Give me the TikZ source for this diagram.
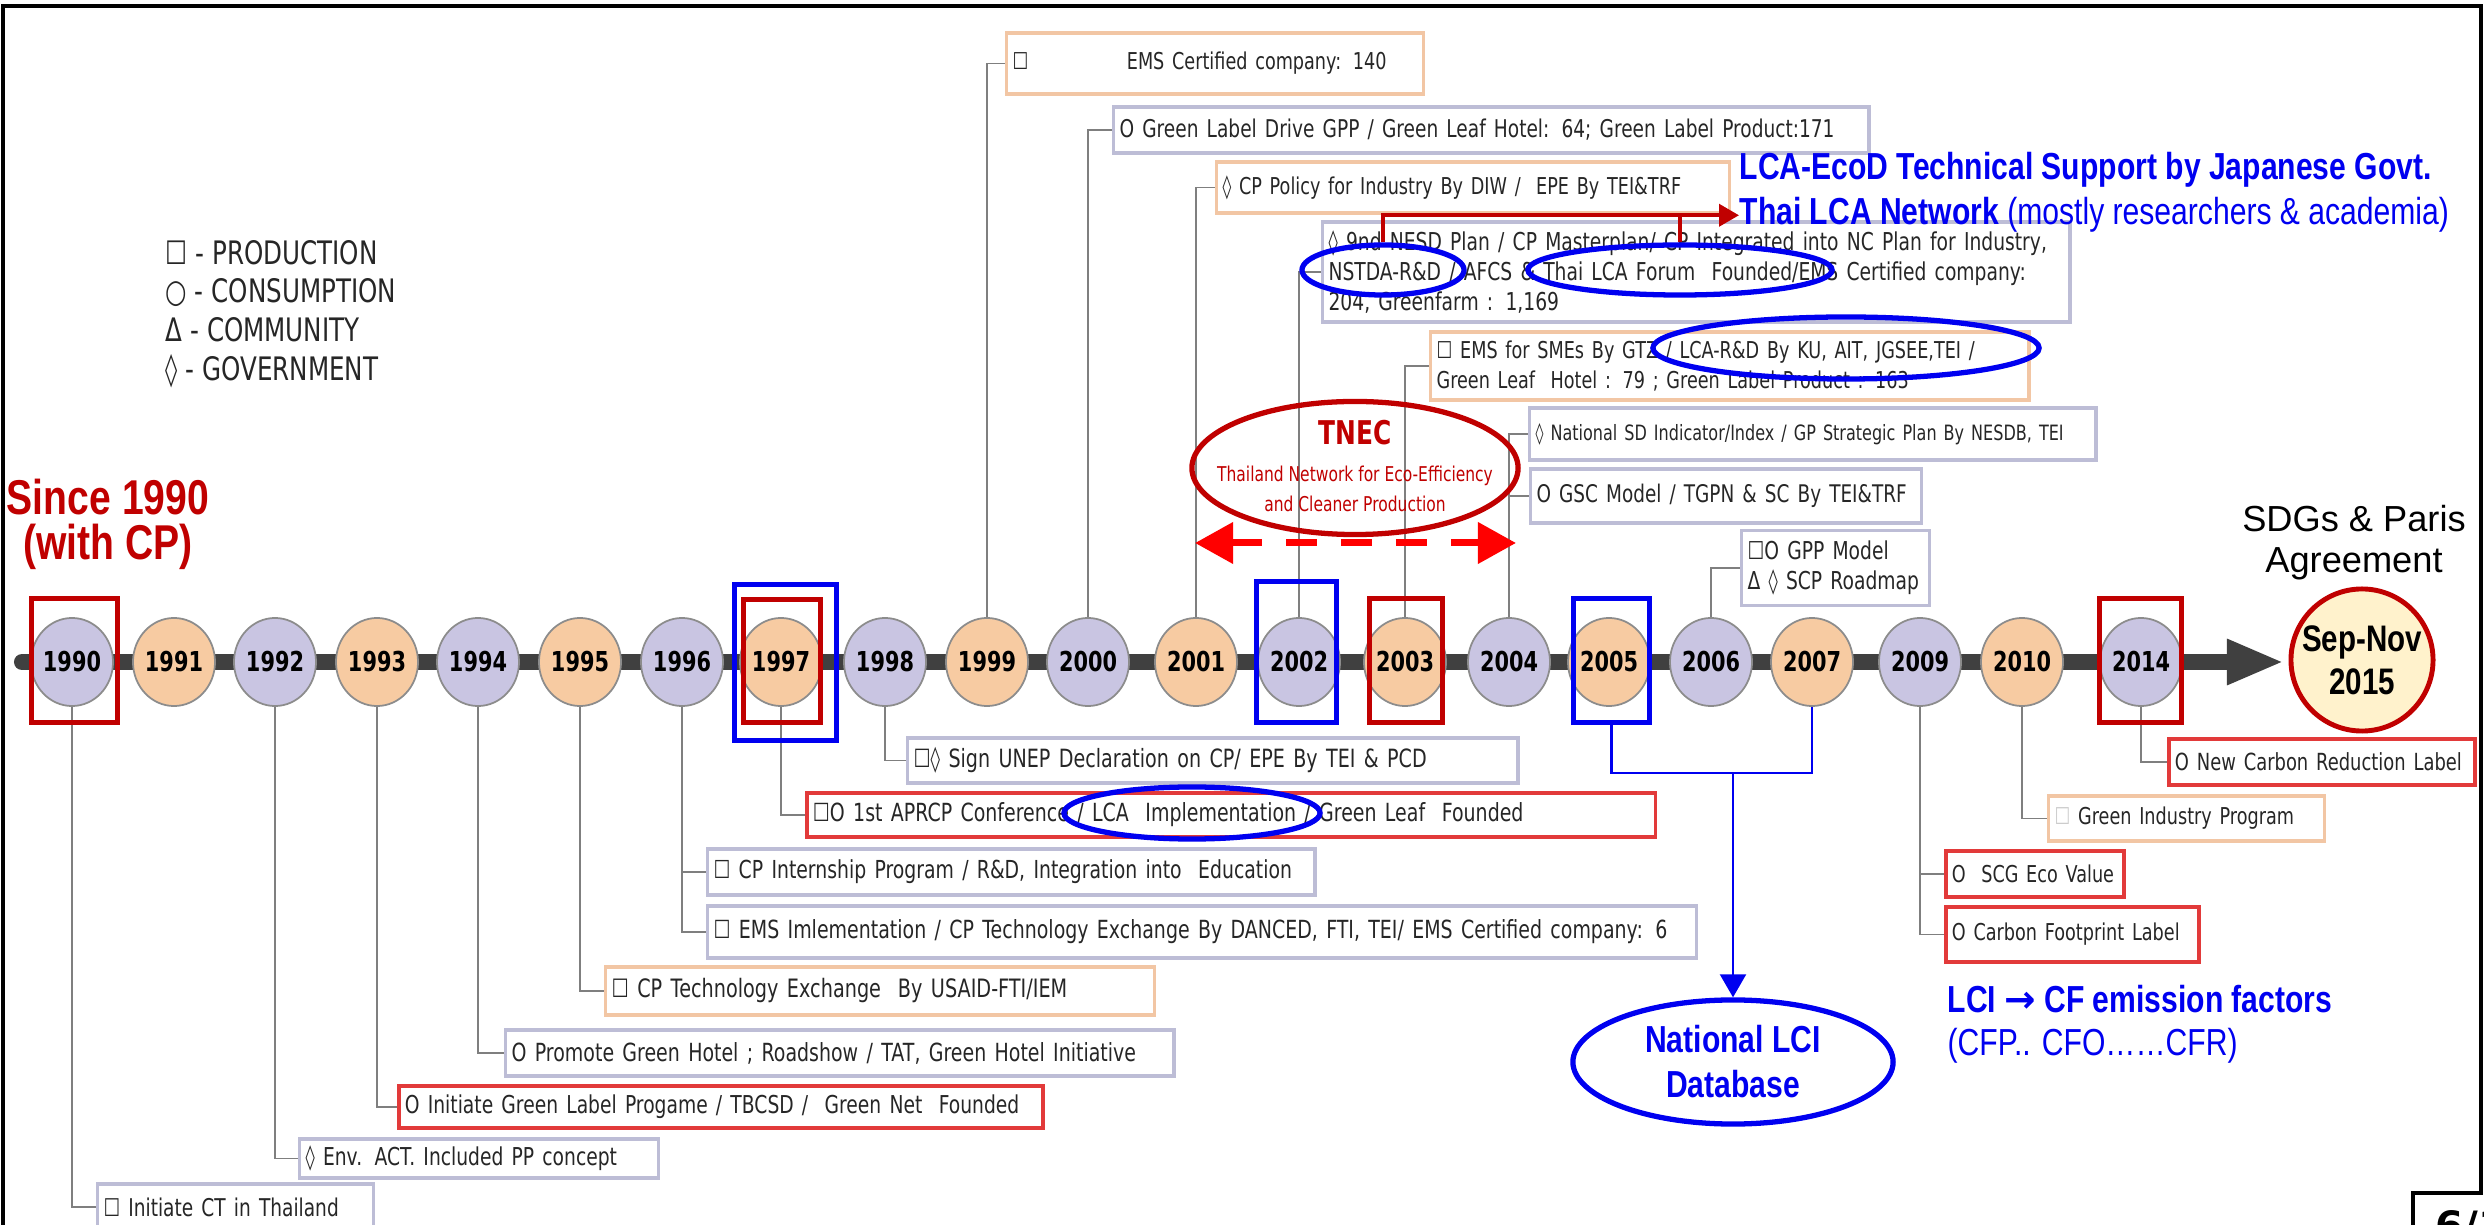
\documentclass[tikz,border=0pt]{standalone}
\usepackage{fontspec}
\setmainfont{DejaVu Sans}
\newfontfamily\boxfont{DejaVu Sans}[FakeStretch=0.76]
\newfontfamily\narrowfont{Liberation Sans}[FakeStretch=0.8]
\newfontfamily\plainfont{Liberation Sans}
\newfontfamily\symfont{DejaVu Sans}
\usetikzlibrary{shapes.geometric,arrows.meta}

\definecolor{lavfill}{HTML}{C9C5E2}
\definecolor{peachfill}{HTML}{F7CBA2}
\definecolor{ringgray}{HTML}{8C8C8C}
\definecolor{barcol}{HTML}{404040}
\definecolor{darkred}{HTML}{C00000}
\definecolor{hlblue}{HTML}{0000F0}
\definecolor{lavline}{HTML}{BDBDD6}
\definecolor{orline}{HTML}{F2C6A4}
\definecolor{redline}{HTML}{E23A3A}
\definecolor{linkgray}{HTML}{7F7F7F}
\definecolor{boxtext}{HTML}{262626}
\definecolor{creamfill}{HTML}{FFF2CC}
\definecolor{dashred}{HTML}{FF0000}

\tikzset{
  yearball/.style={ellipse, draw=ringgray, line width=0.5pt, minimum width=0.77cm, minimum height=0.88cm, inner sep=0pt, font=\boxfont\bfseries\fontsize{7.8}{9}\selectfont},
  evbox/.style={rectangle, fill=white, anchor=west, align=left, inner xsep=0.06cm, inner ysep=0pt, text=boxtext, font=\boxfont\fontsize{6.6}{8.5}\selectfont},
  boxsize/.style={font=\boxfont\fontsize{#1}{8.5}\selectfont},
  lavbox/.style={evbox, draw=lavline, line width=0.9pt},
  orbox/.style={evbox, draw=orline, line width=0.9pt},
  redbox/.style={evbox, draw=redline, line width=1.1pt},
  link/.style={draw=linkgray, line width=0.45pt},
  hired/.style={rectangle, draw=darkred, line width=1.6pt, inner sep=0pt},
  hiblue/.style={rectangle, draw=hlblue, line width=1.6pt, inner sep=0pt},
  blueoval/.style={ellipse, draw=hlblue, line width=1.5pt, inner sep=0pt},
  dblink/.style={draw=hlblue, line width=0.6pt},
  legendtext/.style={anchor=base west, inner sep=0pt, text=boxtext, font=\boxfont\fontsize{9.2}{10}\selectfont},
  bluebold/.style={anchor=base west, inner sep=0pt, text=hlblue, font=\narrowfont\bfseries\fontsize{10.7}{12.8}\selectfont},
  bluetext/.style={anchor=base west, inner sep=0pt, text=hlblue, font=\narrowfont\fontsize{10.7}{12.8}\selectfont},
  redbig/.style={anchor=base, inner sep=0pt, text=darkred, font=\narrowfont\bfseries\fontsize{13.9}{16}\selectfont},
  sdgtext/.style={anchor=base, inner sep=0pt, font=\plainfont\fontsize{10.3}{12}\selectfont},
  tnecsub/.style={anchor=base, inner sep=0pt, text=darkred, font=\boxfont\fontsize{5.8}{7}\selectfont},
  sepring/.style={circle, draw=darkred, line width=1.4pt, fill=creamfill, minimum size=1.42cm, inner sep=0pt, align=center, font=\narrowfont\bfseries\fontsize{10.5}{12.2}\selectfont},
  dbnode/.style={ellipse, draw=hlblue, line width=1.5pt, minimum width=3.2cm, minimum height=1.24cm, inner sep=0pt, align=center, text=hlblue, font=\narrowfont\bfseries\fontsize{10.7}{12.8}\selectfont}
}

\begin{document}
\begin{tikzpicture}[x=0.01cm,y=-0.01cm]
\useasboundingbox (0,0) rectangle (2484,1225);
\draw[line width=0.9pt] (3,1225) -- (3,6) -- (2481,6) -- (2481,1193) -- (2413,1193) -- (2413,1225);

\coordinate (tlstart) at (22,662);
\coordinate (tlend) at (2284,662);
\draw[barcol, line width=0.16cm, line cap=round, -{Triangle[length=0.57cm,width=0.42cm]}] (tlstart) -- (tlend);

\foreach \px/\yr/\fillc in {72/1990/lavfill,174/1991/peachfill,275/1992/lavfill,377/1993/peachfill,478/1994/lavfill,580/1995/peachfill,682/1996/lavfill,781/1997/peachfill,885/1998/lavfill,987/1999/peachfill,1088/2000/lavfill,1196/2001/peachfill,1299/2002/lavfill,1405/2003/peachfill,1509/2004/lavfill,1609/2005/peachfill,1711/2006/lavfill,1812/2007/peachfill,1920/2009/lavfill,2022/2010/peachfill,2141/2014/lavfill}
  \node[yearball, fill=\fillc] (y\yr) at (\px,662) {\yr};
\node[sepring] (sepnov) at (2362,660) {Sep-Nov\\2015};

\node[orbox, text width=4.05cm, minimum height=0.61cm] (b1999) at (1005,63.5) {☐\hspace{28pt}EMS Certified company: 140};
\node[lavbox, boxsize=6.95, text width=7.43cm, minimum height=0.46cm] (b2000) at (1112,130) {O Green Label Drive GPP / Green Leaf Hotel: 64; Green Label Product:171};
\node[orbox, text width=5.01cm, minimum height=0.51cm] (b2001) at (1215,187.5) {◊ CP Policy for Industry By DIW /\ \ EPE By TEI\&TRF};
\node[lavbox, boxsize=7.0, text width=7.35cm, minimum height=1.00cm] (b2002) at (1321,272) {◊ 9nd NESD Plan / CP Masterplan/ CP Integrated into NC Plan for Industry,\\NSTDA-R\&D / AFCS \& Thai LCA Forum\ \ Founded/EMS Certified company:\\204, Greenfarm : 1,169};
\node[orbox, text width=5.86cm, minimum height=0.68cm] (b2003) at (1429,366) {☐ EMS for SMEs By GTZ / LCA-R\&D By KU, AIT, JGSEE,TEI /\\Green Leaf\ \ Hotel : 79 ; Green Label Product : 163};
\node[lavbox, boxsize=6.0, text width=5.54cm, minimum height=0.52cm] (b2004a) at (1528,434) {◊ National SD Indicator/Index / GP Strategic Plan By NESDB, TEI};
\node[lavbox, boxsize=6.9, text width=3.79cm, minimum height=0.54cm] (b2004b) at (1529,496) {O GSC Model / TGPN \& SC By TEI\&TRF};
\node[lavbox, boxsize=7.0, text width=1.76cm, minimum height=0.75cm] (b2006) at (1740,568) {☐O GPP Model\\Δ ◊ SCP Roadmap};

\node[lavbox, boxsize=7.15, text width=5.98cm, minimum height=0.45cm] (b1998) at (906,760.5) {☐◊ Sign UNEP Declaration on CP/ EPE By TEI \& PCD};
\node[redbox, boxsize=7.1, text width=8.36cm, minimum height=0.44cm] (b1997) at (805,815) {☐O 1st APRCP Conference / LCA\ \ Implementation / Green Leaf\ \ Founded};
\node[lavbox, boxsize=7.05, text width=5.95cm, minimum height=0.46cm] (b1996a) at (706,872) {☐ CP Internship Program / R\&D, Integration into\ \ Education};
\node[lavbox, boxsize=7.1, text width=9.76cm, minimum height=0.52cm] (b1996b) at (706,932) {☐ EMS Imlementation / CP Technology Exchange By DANCED, FTI, TEI/ EMS Certified company: 6};
\node[orbox, boxsize=7.2, text width=5.37cm, minimum height=0.48cm] (b1995) at (604,991) {☐ CP Technology Exchange\ \ By USAID-FTI/IEM};
\node[lavbox, boxsize=7.1, text width=6.56cm, minimum height=0.46cm] (b1994) at (504,1053) {O Promote Green Hotel ; Roadshow / TAT, Green Hotel Initiative};
\node[redbox, boxsize=7.0, text width=6.32cm, minimum height=0.42cm] (b1993) at (397,1107) {O Initiate Green Label Progame / TBCSD /\ \ Green Net\ \ Founded};
\node[lavbox, boxsize=7.0, text width=3.47cm, minimum height=0.39cm] (b1992) at (298,1158.5) {◊ Env. ACT. Included PP concept};
\node[lavbox, boxsize=6.95, text width=2.64cm, minimum height=0.46cm] (b1990) at (96,1207) {☐ Initiate CT in Thailand};
\node[redbox, boxsize=6.7, text width=2.94cm, minimum height=0.46cm] (b2014) at (2167,762) {O New Carbon Reduction Label};
\node[orbox, text width=2.64cm, minimum height=0.45cm] (b2010) at (2047,818.5) {{\color{black!20}☐} Green Industry Program};
\node[redbox, text width=1.66cm, minimum height=0.46cm] (b2009a) at (1944,874) {O\ \ SCG Eco Value};
\node[redbox, text width=2.41cm, minimum height=0.55cm] (b2009b) at (1944,934.5) {O Carbon Footprint Label};

\draw[link] (y1999.north) |- (b1999.west);
\draw[link] (y2000.north) |- (b2000.west);
\draw[link] (y2001.north) |- (b2001.west);
\draw[link] (y2002.north) |- (b2002.west);
\draw[link] (y2003.north) |- (b2003.west);
\draw[link] (y2004.north) |- (b2004a.west);
\draw[link] (y2004.north) |- (b2004b.west);
\draw[link] (y2006.north) |- (b2006.west);
\draw[link] (y1998.south) |- (b1998.west);
\draw[link] (y1997.south) |- (b1997.west);
\draw[link] (y1996.south) |- (b1996a.west);
\draw[link] (y1996.south) |- (b1996b.west);
\draw[link] (y1995.south) |- (b1995.west);
\draw[link] (y1994.south) |- (b1994.west);
\draw[link] (y1993.south) |- (b1993.west);
\draw[link] (y1992.south) |- (b1992.west);
\draw[link] (y1990.south) |- (b1990.west);
\draw[link] (y2014.south) |- (b2014.west);
\draw[link] (y2010.south) |- (b2010.west);
\draw[link] (y2009.south) |- (b2009a.west);
\draw[link] (y2009.south) |- (b2009b.west);

\node[hired, minimum width=0.86cm, minimum height=1.24cm] (h1990) at (74.5,660.5) {};
\node[hiblue, minimum width=1.02cm, minimum height=1.56cm] (h1997b) at (785.5,662.5) {};
\node[hired, minimum width=0.77cm, minimum height=1.23cm] (h1997r) at (782,661) {};
\node[hiblue, minimum width=0.80cm, minimum height=1.41cm] (h2002) at (1296.5,652) {};
\node[hired, minimum width=0.73cm, minimum height=1.24cm] (h2003) at (1406,660.5) {};
\node[hiblue, minimum width=0.76cm, minimum height=1.24cm] (h2005) at (1611.5,660.5) {};
\node[hired, minimum width=0.82cm, minimum height=1.24cm] (h2014) at (2140.5,660.5) {};

\node[blueoval, minimum width=1.62cm, minimum height=0.5cm] (enstda) at (1383,270) {};
\node[blueoval, minimum width=3.04cm, minimum height=0.5cm] (eforum) at (1680,270) {};
\node[blueoval, minimum width=3.86cm, minimum height=0.62cm] (ekuait) at (1846,348) {};
\node[blueoval, minimum width=2.56cm, minimum height=0.52cm] (eimpl) at (1192,813) {};

\node[ellipse, draw=darkred, line width=1.5pt, minimum width=3.26cm, minimum height=1.33cm, inner sep=0pt] (tnec) at (1355,468) {};
\node[anchor=base, inner sep=0pt, text=darkred, font=\boxfont\bfseries\fontsize{9.3}{11}\selectfont] (tnecname) at (1355,445) {TNEC};
\node[tnecsub] (tnecline1) at (1355,482) {Thailand Network for Eco-Efficiency};
\node[tnecsub] (tnecline2) at (1355,512) {and Cleaner Production};
\coordinate (spanl) at (1195,543);
\coordinate (spanr) at (1516,543);
\draw[dashred, line width=0.07cm, dash pattern=on 0.31cm off 0.24cm, {Triangle[length=0.38cm,width=0.40cm]}-{Triangle[length=0.38cm,width=0.40cm]}] (spanl) -- (spanr);

\node[legendtext] (lgprod) at (165,265) {☐ - PRODUCTION};
\node[legendtext] (lgcons) at (165,303) {○ - CONSUMPTION};
\node[legendtext] (lgcomm) at (165,342) {Δ - COMMUNITY};
\node[legendtext] (lggov) at (165,381) {◊ - GOVERNMENT};

\node[redbig] (since) at (108,515) {Since 1990};
\node[redbig] (withcp) at (108,560) {(with CP)};
\node[sdgtext] (sdgs) at (2354,532) {SDGs \& Paris};
\node[sdgtext] (agreement) at (2354,573) {Agreement};

\node[bluebold] (lcaecod) at (1739,180) {LCA-EcoD Technical Support by Japanese Govt.};
\node[bluetext] (lcanet) at (1739,225) {\textbf{Thai LCA Network} (mostly researchers \& academia)};
\draw[darkred, line width=1.1pt, -{Triangle[length=0.2cm,width=0.22cm]}] (enstda.north) |- (lcanet.west);
\draw[darkred, line width=1.1pt] (eforum.north) -- (eforum.north |- lcanet.west);

\node[dbnode] (lcidb) at (1733,1062) {National LCI\\Database};
\coordinate (dbsplit) at (1733,773);
\draw[dblink] (h2005.south) |- (dbsplit) -| (y2007.south);
\draw[dblink, -{Triangle[length=0.23cm,width=0.26cm]}] (dbsplit) -- (lcidb.north);

\node[bluebold] (lcicf) at (1947,1012) {LCI {\symfont →} CF emission factors};
\node[bluetext] (cfrange) at (1947,1055) {(CFP.. CFO……CFR)};

\node[anchor=north west, inner sep=0pt, font=\symfont\bfseries\fontsize{11.5}{13}\selectfont] (pageno) at (2435,1210) {6/1};
\end{tikzpicture}
\end{document}
